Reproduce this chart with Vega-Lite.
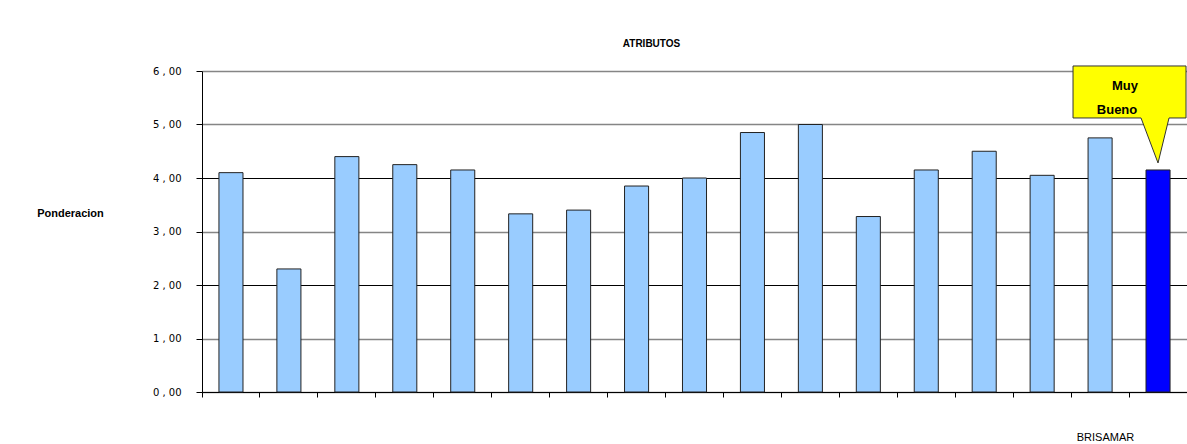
{
  "$schema": "https://vega.github.io/schema/vega-lite/v6.json",
  "width": 985,
  "height": 321,
  "autosize": {"type": "none"},
  "padding": {"left": 202, "top": 71, "right": 0, "bottom": 52},
  "background": "white",
  "title": {
    "text": "ATRIBUTOS",
    "font": "Liberation Sans",
    "fontSize": 10,
    "fontWeight": "bold",
    "color": "black",
    "anchor": "middle",
    "frame": "group",
    "dx": -43,
    "offset": 15
  },
  "config": {
    "view": {"stroke": null},
    "axis": {"labelFont": "DejaVu Sans", "titleFont": "Liberation Sans"}
  },
  "datasets": {
    "atributos": [
      {"atributo": "A1", "valor": 4.1, "tipo": "otros"},
      {"atributo": "A2", "valor": 2.3, "tipo": "otros"},
      {"atributo": "A3", "valor": 4.4, "tipo": "otros"},
      {"atributo": "A4", "valor": 4.25, "tipo": "otros"},
      {"atributo": "A5", "valor": 4.15, "tipo": "otros"},
      {"atributo": "A6", "valor": 3.33, "tipo": "otros"},
      {"atributo": "A7", "valor": 3.4, "tipo": "otros"},
      {"atributo": "A8", "valor": 3.85, "tipo": "otros"},
      {"atributo": "A9", "valor": 4.0, "tipo": "otros"},
      {"atributo": "A10", "valor": 4.85, "tipo": "otros"},
      {"atributo": "A11", "valor": 5.0, "tipo": "otros"},
      {"atributo": "A12", "valor": 3.28, "tipo": "otros"},
      {"atributo": "A13", "valor": 4.15, "tipo": "otros"},
      {"atributo": "A14", "valor": 4.5, "tipo": "otros"},
      {"atributo": "A15", "valor": 4.05, "tipo": "otros"},
      {"atributo": "A16", "valor": 4.75, "tipo": "otros"},
      {"atributo": "BRISAMAR", "valor": 4.15, "tipo": "BRISAMAR"}
    ],
    "nota": [
      {"atributo": "BRISAMAR", "linea": "Muy", "y": 5.72},
      {"atributo": "BRISAMAR", "linea": "Bueno", "y": 5.27}
    ]
  },
  "encoding": {
    "x": {
      "field": "atributo",
      "type": "nominal",
      "sort": null,
      "scale": {"paddingInner": 0, "paddingOuter": 0},
      "axis": {
        "title": "BRISAMAR",
        "titleFont": "Liberation Sans",
        "titleFontSize": 11,
        "titleFontWeight": "normal",
        "titleColor": "black",
        "titleX": 903,
        "titleY": 45,
        "titleAlign": "center",
        "titleBaseline": "middle",
        "labels": false,
        "bandPosition": 0,
        "tickColor": "black",
        "tickSize": 5,
        "domainColor": "black",
        "grid": false
      }
    }
  },
  "layer": [
    {
      "data": {"name": "atributos"},
      "mark": {"type": "bar", "width": {"band": 0.415}, "stroke": "#222222", "strokeWidth": 1},
      "encoding": {
        "y": {
          "field": "valor",
          "type": "quantitative",
          "scale": {"domain": [0, 6], "nice": false},
          "axis": {
            "values": [0, 1, 2, 3, 4, 5, 6],
            "labelExpr": "replace(format(datum.value, '.2f'), '.', ' , ')",
            "labelFontSize": 10,
            "labelColor": "black",
            "labelPadding": 15,
            "tickColor": "black",
            "tickSize": 6,
            "domainColor": "black",
            "gridColor": {"condition": {"test": "datum.value == 4 || datum.value == 2", "value": "black"}, "value": "#858585"},
            "gridWidth": {"condition": {"test": "datum.value == 4 || datum.value == 2", "value": 1}, "value": 1.5},
            "gridOpacity": 1,
            "title": "Ponderacion",
            "titleFont": "Liberation Sans",
            "titleFontSize": 11,
            "titleFontWeight": "bold",
            "titleColor": "black",
            "titleAngle": 0,
            "titleX": -132,
            "titleY": 142,
            "titleAlign": "center",
            "titleBaseline": "middle"
          }
        },
        "color": {
          "field": "tipo",
          "type": "nominal",
          "scale": {"domain": ["otros", "BRISAMAR"], "range": ["#99CCFF", "#0000FF"]},
          "legend": null
        }
      }
    },
    {
      "data": {"name": "atributos"},
      "transform": [{"filter": "datum.tipo == 'BRISAMAR'"}],
      "mark": {
        "type": "point",
        "shape": "M-0.85,-1.04 L0.28,-1.04 L0.28,-0.52 L0.11,-0.52 L0,-0.07 L-0.17,-0.52 L-0.85,-0.52 Z",
        "size": 40000,
        "filled": true,
        "fill": "#FFFF00",
        "stroke": "#333333",
        "strokeWidth": 1,
        "opacity": 1
      },
      "encoding": {
        "y": {"field": "valor", "type": "quantitative"}
      }
    },
    {
      "data": {"name": "nota"},
      "transform": [{"filter": "datum.linea == 'Muy'"}],
      "mark": {"type": "text", "font": "Liberation Sans", "fontSize": 13, "fontWeight": "bold", "color": "black", "dx": -33, "baseline": "middle"},
      "encoding": {
        "y": {"field": "y", "type": "quantitative"},
        "text": {"field": "linea"}
      }
    },
    {
      "data": {"name": "nota"},
      "transform": [{"filter": "datum.linea == 'Bueno'"}],
      "mark": {"type": "text", "font": "Liberation Sans", "fontSize": 13, "fontWeight": "bold", "color": "black", "dx": -41, "baseline": "middle"},
      "encoding": {
        "y": {"field": "y", "type": "quantitative"},
        "text": {"field": "linea"}
      }
    }
  ]
}
